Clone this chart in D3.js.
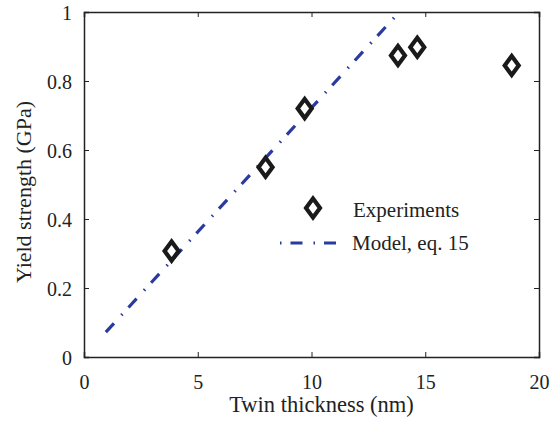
<!DOCTYPE html>
<html>
<head>
<meta charset="utf-8">
<script src="https://cdn.jsdelivr.net/npm/d3@7"></script>
</head>
<body style="margin:0;background:#fff">
<div id="chart"></div>
<script>
// measured values (twin thickness nm, yield strength GPa)
const expThickness = [3.85, 7.98, 9.7, 13.8, 14.65, 18.8];
const expStrength = [0.307, 0.55, 0.72, 0.874, 0.898, 0.845];
const modelThickness = [0.96, 13.86];
const modelStrength = [0.072, 1.0];
const xTicks = [0, 5, 10, 15, 20];
const yTicks = [0, 0.2, 0.4, 0.6, 0.8, 1];

const FONT = "Liberation Serif";
const WIDTH = 553, HEIGHT = 422;
const margin = {top: 12, right: 14, bottom: 65, left: 84};
const width = WIDTH - margin.left - margin.right;
const height = HEIGHT - margin.top - margin.bottom;

const svg = d3.select("#chart").append("svg")
    .attr("width", WIDTH)
    .attr("height", HEIGHT)
    .attr("font-family", FONT);

const g = svg.append("g")
    .attr("transform", "translate(" + margin.left + "," + margin.top + ")");

const x = d3.scaleLinear().domain([0, 20]).range([0, width]);
const y = d3.scaleLinear().domain([0, 1]).range([height, 0]);

// axes, ticks pointing inward on all four sides
const tickLen = 5;
const fmt = d => d3.format("~g")(d);

const xAxis = g.append("g").attr("transform", "translate(0," + height + ")")
    .call(d3.axisBottom(x).tickValues(xTicks).tickSize(-tickLen).tickPadding(18).tickFormat(fmt));
const yAxis = g.append("g")
    .call(d3.axisLeft(y).tickValues(yTicks).tickSize(-tickLen).tickPadding(12).tickFormat(fmt));
g.append("g")
    .call(d3.axisTop(x).tickValues(xTicks).tickSize(-tickLen).tickFormat(""));
g.append("g").attr("transform", "translate(" + width + ",0)")
    .call(d3.axisRight(y).tickValues(yTicks).tickSize(-tickLen).tickFormat(""));

g.selectAll("g").attr("font-family", FONT).attr("font-size", 20);
g.selectAll(".domain").attr("stroke", "#222").attr("stroke-width", 1.5);
g.selectAll(".tick line").attr("stroke", "#222").attr("stroke-width", 1);
g.selectAll(".tick text")
    .attr("fill", "#222")
    .attr("font-family", FONT)
    .attr("font-size", 20);
yAxis.selectAll(".tick text").attr("dy", "0.36em");

// axis labels
svg.append("text")
    .attr("x", margin.left + x(10) + 10)
    .attr("y", 412)
    .attr("text-anchor", "middle")
    .attr("fill", "#222")
    .attr("font-family", FONT)
    .attr("font-size", 22.5)
    .text("Twin thickness (nm)");

svg.append("text")
    .attr("transform", "translate(31,192) rotate(-90)")
    .attr("text-anchor", "middle")
    .attr("fill", "#222")
    .attr("font-family", FONT)
    .attr("font-size", 22)
    .text("Yield strength (GPa)");

// model line
const lineColor = "#2a3a9e";
const dash = "12,11,1.5,9";
const modelData = modelThickness.map((t, i) => ({t: t, s: modelStrength[i]}));
g.append("path")
    .datum(modelData)
    .attr("d", d3.line().x(d => x(d.t)).y(d => y(d.s)))
    .attr("fill", "none")
    .attr("stroke", lineColor)
    .attr("stroke-width", 3.2)
    .attr("stroke-dasharray", dash);

// diamond markers
const dW = 7, dH = 9.5;
const diamond = `M0,${-dH}L${dW},0L0,${dH}L${-dW},0Z`;
const expData = expThickness.map((t, i) => ({t: t, s: expStrength[i]}));
g.selectAll(".pt").data(expData).enter().append("path")
    .attr("class", "pt")
    .attr("transform", d => "translate(" + x(d.t) + "," + y(d.s) + ")")
    .attr("d", diamond)
    .attr("fill", "#fff")
    .attr("stroke", "#1a1a1a")
    .attr("stroke-width", 4.2);

// legend
const legend = svg.append("g");
legend.append("path")
    .attr("transform", "translate(313,208)")
    .attr("d", diamond)
    .attr("fill", "#fff")
    .attr("stroke", "#1a1a1a")
    .attr("stroke-width", 4.2);
legend.append("text")
    .attr("x", 353).attr("y", 217)
    .attr("fill", "#222")
    .attr("font-family", FONT)
    .attr("font-size", 21)
    .text("Experiments");
legend.append("line")
    .attr("x1", 280).attr("x2", 345)
    .attr("y1", 243).attr("y2", 243)
    .attr("stroke", lineColor)
    .attr("stroke-width", 3.2)
    .attr("stroke-dasharray", "1.5,9,12,11");
legend.append("text")
    .attr("x", 352).attr("y", 250)
    .attr("fill", "#222")
    .attr("font-family", FONT)
    .attr("font-size", 21)
    .text("Model, eq. 15");
</script>
</body>
</html>
